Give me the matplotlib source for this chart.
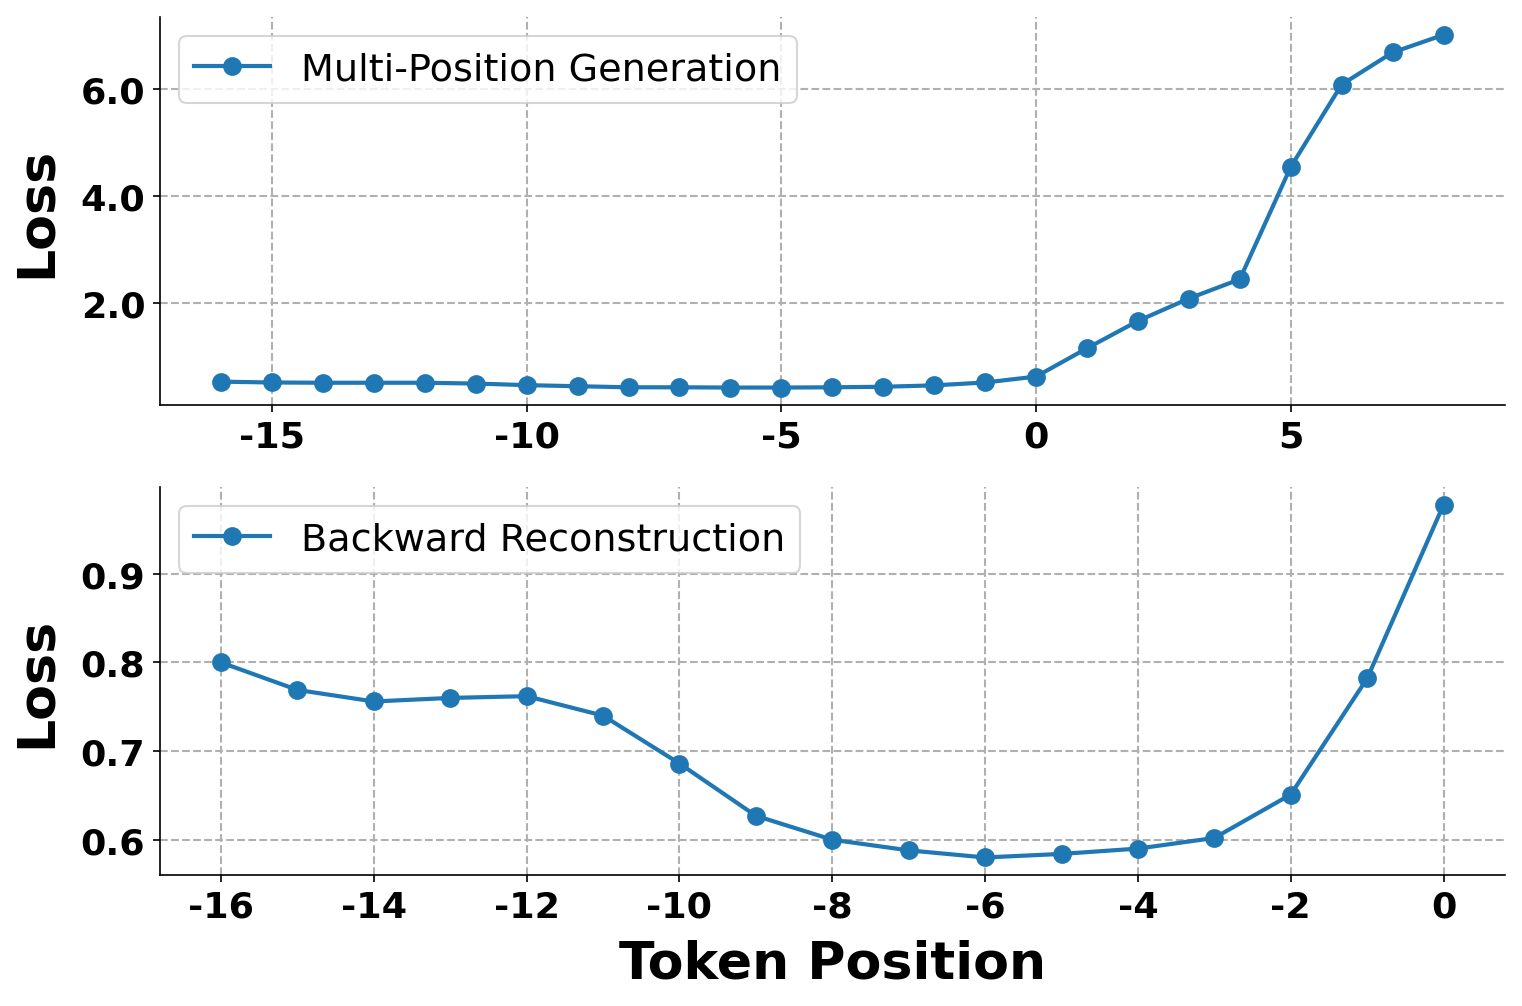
import matplotlib
matplotlib.use("Agg")
import matplotlib.pyplot as plt
from matplotlib.ticker import FormatStrFormatter

plt.rcParams['axes.unicode_minus'] = False

top_x = list(range(-16, 9))
top_loss = [0.535, 0.52, 0.515, 0.515, 0.515, 0.50, 0.47, 0.45, 0.43, 0.43, 0.425, 0.425,
            0.43, 0.44, 0.466, 0.52, 0.63, 1.16, 1.67, 2.09, 2.45, 4.55, 6.09, 6.69, 7.02]
top_label = "Multi-Position Generation"

bot_x = list(range(-16, 1))
bot_loss = [0.800, 0.769, 0.756, 0.760, 0.762, 0.740, 0.686, 0.627, 0.600, 0.588,
            0.580, 0.584, 0.590, 0.602, 0.651, 0.782, 0.978]
bot_label = "Backward Reconstruction"

fig, axes = plt.subplots(2, 1, figsize=(10.153, 6.713), dpi=150)
fig.subplots_adjust(left=0.105, right=0.988, top=0.982, bottom=0.13, hspace=0.211)

for ax, x, y, lab in [(axes[0], top_x, top_loss, top_label), (axes[1], bot_x, bot_loss, bot_label)]:
    ax.plot(x, y, marker='o', color='#1f77b4', linewidth=2, markersize=8, label=lab)
    ax.grid(True, linestyle='--', color='#b0b0b0', linewidth=1)
    ax.spines['top'].set_visible(False)
    ax.spines['right'].set_visible(False)
    ax.set_ylabel("Loss", fontsize=25, fontweight='bold', labelpad=9)
    ax.yaxis.set_major_formatter(FormatStrFormatter('%.1f'))
    ax.tick_params(labelsize=17.5)
    for t in ax.get_xticklabels() + ax.get_yticklabels():
        t.set_fontweight('bold')
    ax.legend(loc='upper left', fontsize=18.3)

axes[1].set_xlabel("Token Position", fontsize=25, fontweight='bold', labelpad=7)
fig.align_ylabels(axes)
fig.savefig("out.png", dpi=150)
